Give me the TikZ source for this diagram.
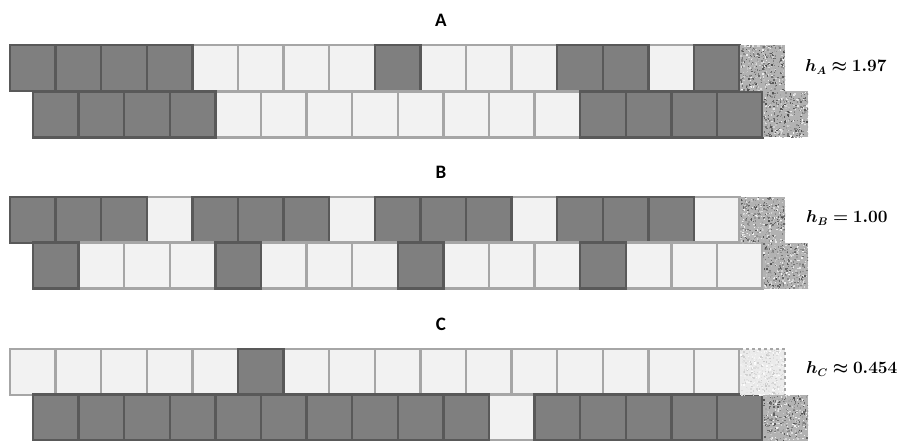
\documentclass[tikz,border=0pt]{standalone}
\usepackage{fontspec}
\usepackage{amsmath}
\usepackage{bm}
\newfontfamily\labfont{Carlito}
\definecolor{dk}{HTML}{7F7F7F}
\definecolor{dkb}{HTML}{595959}
\definecolor{lt}{HTML}{F2F2F2}
\definecolor{ltb}{HTML}{A6A6A6}
\tikzset{
  dsq/.style={fill=dk,draw=dkb,line width=2.3pt},
  lsq/.style={fill=lt,draw=ltb,line width=2.3pt},
  ttl/.style={font=\labfont\bfseries\fontsize{19}{21}\selectfont},
  hlab/.style={anchor=west,inner sep=0pt,font=\fontsize{16}{18}\selectfont},
}
\newcommand{\brickrow}[3]{%
  \foreach \v [count=\k from 0] in {#3}{%
    \ifnum\v=0 \draw[lsq] ({#1+\k*45.6},#2) rectangle ++(45.6,46);\fi}%
  \foreach \v [count=\k from 0] in {#3}{%
    \ifnum\v=1 \draw[dsq] ({#1+\k*45.6},#2) rectangle ++(45.6,46);\fi}%
}
\newcommand{\grain}[6]{%
  \begin{scope}
    \clip (#1,#2) rectangle ++(45,46);
    \fill[#3] (#1,#2) rectangle ++(45,46);
    \pgfmathsetseed{#4}
    \foreach \i in {1,...,420}{%
      \pgfmathsetmacro\rx{#1+rnd*45}%
      \pgfmathsetmacro\ry{#2+rnd*46}%
      \pgfmathsetmacro\g{int(#5+rnd*#6)}%
      \fill[black!\g] (\rx,\ry) rectangle ++(1.4,1.4);
    }
  \end{scope}}
\begin{document}
\begin{tikzpicture}[x=1pt,y=-1pt]
\useasboundingbox (0,0) rectangle (899,441);
% A
\node[ttl] (tA) at (441,20) {A};
\brickrow{10}{45}{1,1,1,1,0,0,0,0,1,0,0,0,1,1,0,1}
\brickrow{33}{91.5}{1,1,1,1,0,0,0,0,0,0,0,0,1,1,1,1}
\grain{740}{45}{black!30}{11}{5}{65}
\grain{763}{91.5}{black!30}{12}{5}{65}
\node[hlab] (hA) at (805,67) {$\bm{h_A\approx 1.97}$};
% B
\node[ttl] (tB) at (441,172) {B};
\brickrow{10}{197}{1,1,1,0,1,1,1,0,1,1,1,0,1,1,1,0}
\brickrow{33}{242.5}{1,0,0,0,1,0,0,0,1,0,0,0,1,0,0,0}
\grain{740}{197}{black!30}{13}{5}{65}
\grain{763}{242.5}{black!30}{14}{5}{65}
\node[hlab] (hB) at (806,218) {$\bm{h_B= 1.00}$};
% C
\node[ttl] (tC) at (441,324) {C};
\brickrow{10}{349}{0,0,0,0,0,1,0,0,0,0,0,0,0,0,0,0}
\brickrow{33}{394.5}{1,1,1,1,1,1,1,1,1,1,0,1,1,1,1,1}
\grain{740}{349}{black!8}{15}{0}{22}
\draw[ltb,line width=2pt,dashed] (740,349) -- (785,349) -- (785,395);
\grain{763}{394.5}{black!30}{16}{5}{65}
\node[hlab] (hC) at (806,369) {$\bm{h_C\approx 0.454}$};
\end{tikzpicture}
\end{document}
